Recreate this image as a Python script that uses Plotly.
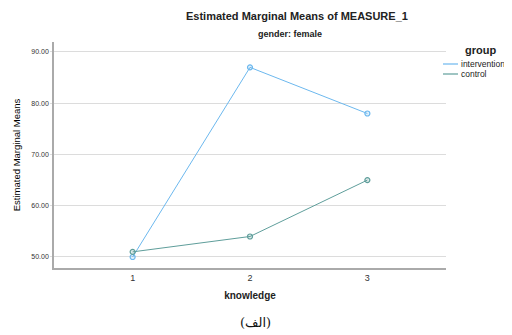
import plotly.graph_objects as go

knowledge = [1, 2, 3]
intervention = [50.0, 87.0, 78.0]
control = [51.0, 54.0, 65.0]
y_ticks = [50, 60, 70, 80, 90]
groups = ["intervention", "control"]

c_int = "#6cb8ee"
c_ctl = "#5f9e9b"

fig = go.Figure()
fig.add_trace(go.Scatter(
    x=knowledge, y=intervention, name=groups[0], mode="lines+markers",
    line=dict(color=c_int, width=1),
    marker=dict(symbol="circle", size=5, color="rgba(108,184,238,0.2)",
                line=dict(color=c_int, width=1.2)),
))
fig.add_trace(go.Scatter(
    x=knowledge, y=control, name=groups[1], mode="lines+markers",
    line=dict(color=c_ctl, width=1),
    marker=dict(symbol="circle", size=5, color="rgba(95,158,155,0.2)",
                line=dict(color=c_ctl, width=1.2)),
))

# page body has an 8px margin; work in screen pixels
O = 8
W, H = 512 - O, 335 - O
px0, px1, py0, py1 = 54, 446, 42, 268   # plot area on screen
L = px0 - O
T = py0 - O
R = W - (px1 - O)
B = H - (py1 - O)
pw = px1 - px0
ph = py1 - py0

def px(x):
    return (x - px0) / pw

def py(y):
    return (py1 - y) / ph

annotations = [
    dict(text="<b>Estimated Marginal Means of MEASURE_1</b>", x=px(297), y=py(16),
         font=dict(size=11, color="#222")),
    dict(text="<b>gender: female</b>", x=px(290), y=py(34),
         font=dict(size=9, color="#222")),
    dict(text="(الف)", x=px(255), y=py(322),
         font=dict(size=13, color="#111", family="DejaVu Serif, DejaVu Sans")),
    dict(text="<b>group</b>", x=px(463), y=py(50), xanchor="left",
         font=dict(size=11, color="#222")),
]
shapes = []
legend_colors = [c_int, c_ctl]
legend_y = [64, 74]
for name, col, yy in zip(groups, legend_colors, legend_y):
    annotations.append(dict(text=name, x=px(459), y=py(yy), xanchor="left",
                            font=dict(size=8.5, color="#222")))
    shapes.append(dict(type="line", xref="paper", yref="paper",
                       x0=px(443), x1=px(458), y0=py(yy), y1=py(yy),
                       line=dict(color=col, width=1.2)))
for a in annotations:
    a.update(xref="paper", yref="paper", showarrow=False, yanchor="middle")

fig.update_layout(
    width=W, height=H,
    margin=dict(l=L, r=R, t=T, b=B),
    paper_bgcolor="white", plot_bgcolor="white",
    font=dict(family="Liberation Sans, Arial, sans-serif", color="#222"),
    showlegend=False,
    xaxis=dict(
        range=[0.33, 3.67], tickvals=knowledge, ticktext=[str(k) for k in knowledge],
        showgrid=False, zeroline=False, automargin=False,
        showline=True, linecolor="#aaaaaa", linewidth=1.5,
        ticks="", tickfont=dict(size=9, color="#333"),
        title=dict(text="<b>knowledge</b>", font=dict(size=10, color="#222"), standoff=10),
    ),
    yaxis=dict(
        range=[47.85, 91.95], tickvals=y_ticks, tickformat=".2f",
        showgrid=True, gridcolor="#dcdcdc", gridwidth=1.2, zeroline=False, automargin=False,
        showline=True, linecolor="#aaaaaa", linewidth=1.5,
        ticks="outside", ticklen=2, tickcolor="#dcdcdc",
        tickfont=dict(size=7, color="#333"),
        title=dict(text="Estimated Marginal Means",
                   font=dict(size=9.5, color="#000"),
                   standoff=9),
    ),
    annotations=annotations,
    shapes=shapes,
)

fig.write_html("out.html")
